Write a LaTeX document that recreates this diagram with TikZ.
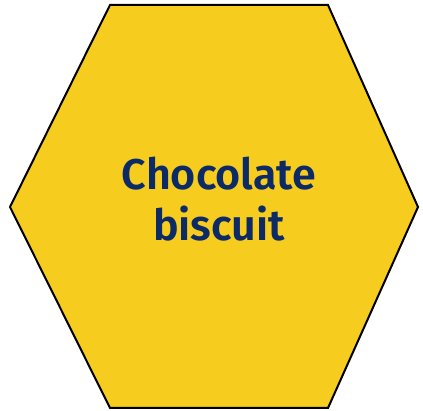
\documentclass[tikz,border=0pt]{standalone}
\usepackage{fontspec}
\setmainfont{Fira Sans}[UprightFont={* SemiBold}]
\definecolor{hexyellow}{HTML}{F6CC1F}
\definecolor{hexblue}{HTML}{0B2A66}
\begin{document}
\begin{tikzpicture}[x=1pt,y=1pt,
  hexstyle/.style={draw=black,line width=2pt,fill=hexyellow,line join=miter},
  labelstyle/.style={text=hexblue,font=\fontsize{43}{51}\selectfont,align=center}]
\useasboundingbox (0,0) rectangle (423,411);
\draw[hexstyle] (110,406) -- (328,406) -- (418,204) -- (328,3) -- (110,3) -- (10,204) -- cycle;
\node[labelstyle] (lbl) at (219,212) {Chocolate\\biscuit};
\end{tikzpicture}
\end{document}
